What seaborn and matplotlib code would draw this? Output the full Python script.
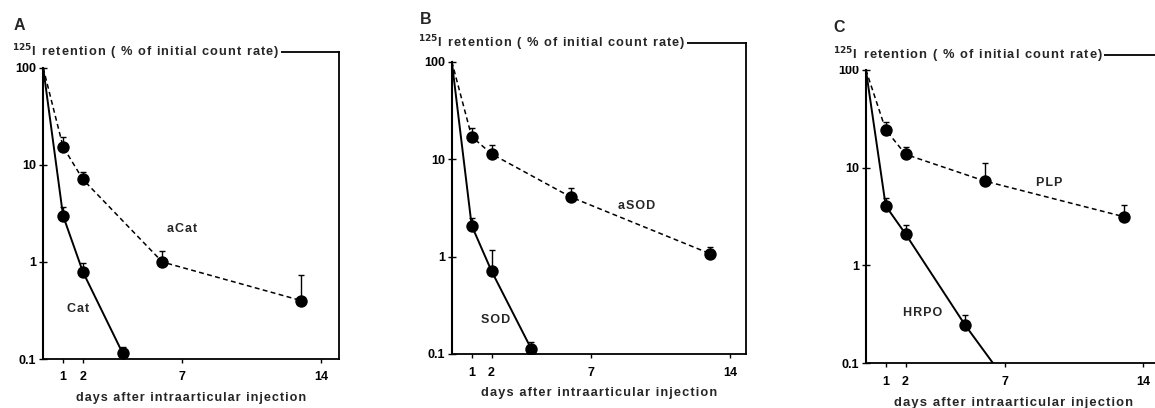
import numpy as np
import pandas as pd
import matplotlib
matplotlib.use("Agg")
import matplotlib.pyplot as plt
import seaborn as sns

sns.set_theme(style="white")
plt.rcParams['font.family'] = ['Liberation Sans', 'DejaVu Sans']
plt.rcParams['font.weight'] = 'bold'

# ---------------- data ----------------
# Panel A
a_days_anion = [0, 1, 2, 6, 13]
a_vals_anion = [100, 15.4, 7.1, 1.0, 0.40]
a_err_anion = [0, 19.6, 8.5, 1.31, 0.73]
a_days_nat = [0, 1, 2, 4]
a_vals_nat = [100, 3.0, 0.79, 0.115]
a_err_nat = [0, 3.66, 0.98, 0.134]
# Panel B
b_days_anion = [0, 1, 2, 6, 13]
b_vals_anion = [100, 17.0, 11.3, 4.07, 1.07]
b_err_anion = [0, 20.7, 14.0, 5.0, 1.25]
b_days_nat = [0, 1, 2, 4]
b_vals_nat = [100, 2.08, 0.71, 0.113]
b_err_nat = [0, 2.48, 1.17, 0.134]
# Panel C
c_days_anion = [0, 1, 2, 6, 13]
c_vals_anion = [100, 24.4, 13.7, 7.3, 3.16]
c_err_anion = [0, 29.6, 16.4, 11.1, 4.17]
c_days_nat = [0, 1, 2, 5, 7]
c_vals_nat = [100, 4.07, 2.10, 0.247, 0.069]
c_err_nat = [0, 4.87, 2.6, 0.31, np.nan]

panel_letters = ["A", "B", "C"]
anion_names = ["aCat", "aSOD", "PLP"]
native_names = ["Cat", "SOD", "HRPO"]
x_ticks = [1, 2, 7, 14]
y_ticks = [0.1, 1, 10, 100]
y_ticklabels = ["0.1", "1", "10", "100"]
y_title_main = "retention ( % of initial count rate)"
x_title = "days after intraarticular injection"


def track(s):
    return "\u200a".join(s)


y_title = r"$\mathbf{^{125}}$I  " + track(y_title_main)

panels = [
    dict(anion=(a_days_anion, a_vals_anion, a_err_anion),
         nat=(a_days_nat, a_vals_nat, a_err_nat)),
    dict(anion=(b_days_anion, b_vals_anion, b_err_anion),
         nat=(b_days_nat, b_vals_nat, b_err_nat)),
    dict(anion=(c_days_anion, c_vals_anion, c_err_anion),
         nat=(c_days_nat, c_vals_nat, c_err_nat)),
]

# layout (figure pixels converted to fractions)
W, H = 1155, 408
axes_px = [  # left, right, bottom, top(frame), xmax, ytop
    (43.2, 339.0, 359.0, 52.0, 14.9, 146),
    (451.8, 745.7, 354.0, 43.3, 14.8, 154),
    (865.9, 1160.2, 363.3, 55.0, 14.85, 142),
]
letter_px = [(14, 25), (420, 20), (833, 28)]
xlabel_px_y = [398, 393, 403]
title_left_px = [12, 418, 833]
title_width_px = [267, 269, 270]
xlabel_width_px = [233, 232, 239]
anion_label_pos = [(7.0, 2.19), (9.3, 3.3), (9.24, 7.0)]
native_label_pos = [(1.75, 0.33), (2.2, 0.223), (2.88, 0.327)]

fig = plt.figure(figsize=(W / 100, H / 100), dpi=100)
renderer = fig.canvas.get_renderer()
fs = 9


def fit_width(txt, target):
    for _ in range(4):
        w = txt.get_window_extent(renderer=renderer).width
        txt.set_fontsize(txt.get_fontsize() * target / w)


for i, p in enumerate(panels):
    l, r, b, t, xmax, ytop = axes_px[i]
    ax = fig.add_axes([l / W, (H - b) / H, (r - l) / W, (b - t) / H])
    ax.set_yscale('log')
    ax.set_xlim(0, xmax)
    ax.set_ylim(0.1, ytop)

    for key, ls, lw in [("anion", (0, (3.2, 2.2)), 1.1), ("nat", "-", 1.4)]:
        d, v, e = p[key]
        df = pd.DataFrame({"day": d, "val": v, "err": e})
        sns.lineplot(data=df, x="day", y="val", ax=ax, color="black",
                     linewidth=lw, linestyle=ls, estimator=None, sort=False)
        pts = df[(df.day > 0) & (df.val >= 0.1)]
        ax.errorbar(pts.day, pts.val,
                    yerr=[np.zeros(len(pts)), pts.err - pts.val],
                    fmt='none', ecolor='black', elinewidth=1.0,
                    capsize=2, capthick=1.0, zorder=3)
        sns.scatterplot(data=pts, x="day", y="val", ax=ax, color="black",
                        s=80, edgecolor="black", linewidth=0, zorder=4)

    ax.set_xlabel("")
    ax.set_ylabel("")
    ax.set_xticks(x_ticks)
    ax.set_xticklabels([str(x) for x in x_ticks], fontsize=fs, fontweight='bold')
    ax.set_yticks(y_ticks)
    ax.set_yticklabels(y_ticklabels, fontsize=fs, fontweight='bold')
    ax.minorticks_off()
    ax.tick_params(axis='y', direction='inout', length=6, width=1.0,
                   left=True, pad=2, colors='black')
    ax.tick_params(axis='x', direction='out', length=3, width=1.0,
                   bottom=True, pad=6, colors='black')
    for s in ax.spines.values():
        s.set_visible(True)
        s.set_color('black')
        s.set_linewidth(1.3)
    ax.spines['left'].set_bounds(0.1, 100)
    ax.spines['left'].set_linewidth(1.5)

    tx = (title_left_px[i] - l) / (r - l)
    tt = ax.text(tx, 1.0, y_title, transform=ax.transAxes, ha='left',
                 va='center', fontsize=9, fontweight='bold',
                 bbox=dict(facecolor='white', edgecolor='none', pad=1.0),
                 zorder=10, clip_on=False)
    fit_width(tt, title_width_px[i])
    ax.text(*anion_label_pos[i], track(anion_names[i]), ha='center',
            va='center', fontsize=9, fontweight='bold')
    ax.text(*native_label_pos[i], track(native_names[i]), ha='center',
            va='center', fontsize=9, fontweight='bold')
    xt = fig.text((l + r) / 2 / W, 1 - xlabel_px_y[i] / H, track(x_title),
                  ha='center', va='center', fontsize=9, fontweight='bold')
    fit_width(xt, xlabel_width_px[i])
    lx, ly = letter_px[i]
    fig.text(lx / W, 1 - ly / H, panel_letters[i], ha='left', va='center',
             fontsize=11.5, fontweight='bold')

fig.savefig("out.png", dpi=100)
